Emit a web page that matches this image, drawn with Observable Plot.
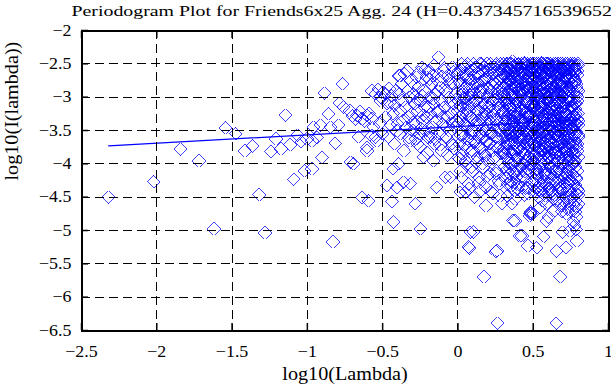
<!DOCTYPE html>
<html><head><meta charset="utf-8">
<script src="https://cdn.jsdelivr.net/npm/d3@7"></script>
<script src="https://cdn.jsdelivr.net/npm/@observablehq/plot@0.6"></script>
<style>html,body{margin:0;padding:0;background:#fff;}</style>
</head><body><div id="chart"></div>
<script>
const title = "Periodogram Plot for Friends6x25 Agg. 24 (H=0.437345716539652)";
const xLabel = "log10(Lambda)";
const yLabel = "log10(I(lambda))";
const xTicks = [-2.5, -2, -1.5, -1, -0.5, 0, 0.5, 1];
const yTicks = [-6.5, -6, -5.5, -5, -4.5, -4, -3.5, -3, -2.5, -2];
const xGrid = [-2, -1.5, -1, -0.5, 0, 0.5];
const yGrid = [-6, -5.5, -5, -4.5, -4, -3.5, -3, -2.5];
const fitX = [-2.32, 0.8];
const fitY = [-3.73, -3.34];

const sparsePoints = [
[-2.32,-4.5],[-2.02,-4.27],[-1.843,-3.78],[-1.718,-3.95],[-1.621,-4.97],[-1.542,-3.46],[-1.475,-3.55],[-1.417,-3.8],[-1.366,-3.73],[-1.32,-4.46],
[-1.279,-5.03],[-1.241,-3.81],[-1.206,-3.62],[-1.174,-3.77],[-1.144,-3.27],[-1.116,-3.71],[-1.09,-4.23],[-1.065,-3.57],[-1.041,-3.67],[-1.019,-4.1],
[-1.0,-3.62],[-0.969,-3.65],[-0.969,-4.07],[-0.958,-3.45],[-0.936,-3.6],[-0.914,-3.42],[-0.903,-3.9],[-0.888,-2.94],[-0.859,-3.25],[-0.848,-3.45],
[-0.83,-5.165],[-0.815,-3.69],[-0.793,-3.42],[-0.786,-3.09],[-0.766,-2.8],[-0.76,-3.15],[-0.715,-3.2],[-0.715,-3.975],[-0.693,-4.0],[-0.67,-3.27],
[-0.66,-3.59],[-0.637,-3.32],[-0.637,-4.5],[-0.604,-3.27],[-0.604,-3.8],[-0.604,-3.75],[-0.594,-4.55],[-0.571,-3.32],[-0.571,-3.575],[-0.549,-2.95],
[-0.549,-3.6],[-0.538,-3.65],[-0.516,-3.0],[-0.483,-2.95],[-0.471,-4.33],[-0.45,-3.08],[-0.45,-3.42],[-0.438,-4.57],[-0.428,-4.07],[-0.428,-4.875],
[-0.405,-3.5],[-0.405,-4.35],[-0.394,-2.675],[-0.394,-4.0],[-0.361,-4.275],[-0.361,-3.8],
[-0.70,-3.28],[-0.68,-3.33],[-0.65,-3.22],[-0.62,-3.36],[-0.59,-3.25],
[-0.57,-2.9],[-0.53,-2.88],[-0.51,-3.05],[-0.5,-2.93],[-0.47,-3.1],[-0.46,-2.87],[-0.44,-2.98],[-0.42,-3.12],[-0.41,-2.9],
[-0.56,-3.45],[-0.52,-3.38],[-0.5,-3.55],[-0.48,-3.3],[-0.46,-3.6],[-0.43,-3.25],[-0.42,-3.7],[-0.4,-3.4]
];

const midPoints = [
[-0.39,-2.95],[-0.385,-3.2],[-0.383,-2.675],[-0.38,-3.55],[-0.375,-2.8],[-0.37,-3.05],[-0.365,-3.35],[-0.355,-2.65],[-0.35,-3.15],[-0.345,-3.45],
[-0.339,-2.6],[-0.335,-2.9],[-0.33,-3.3],[-0.325,-3.6],[-0.32,-3.0],[-0.317,-4.3],[-0.317,-3.65],[-0.31,-2.75],[-0.305,-3.25],[-0.3,-3.5],
[-0.295,-2.95],[-0.29,-3.1],[-0.284,-4.6],[-0.28,-3.4],[-0.275,-2.7],[-0.27,-3.7],[-0.265,-3.2],[-0.26,-2.85],[-0.255,-3.55],[-0.25,-3.75],
[-0.25,-4.975],[-0.245,-3.05],[-0.24,-2.55],[-0.235,-3.35],[-0.228,-3.9],[-0.225,-2.9],[-0.22,-3.15],[-0.215,-3.5],[-0.21,-2.7],[-0.205,-3.3],
[-0.2,-3.6],[-0.195,-2.6],[-0.19,-3.0],[-0.184,-3.6],[-0.18,-3.25],[-0.175,-2.8],[-0.17,-3.45],[-0.162,-2.675],[-0.162,-3.95],[-0.16,-3.1],
[-0.155,-3.7],[-0.15,-2.95],[-0.145,-3.35],[-0.14,-4.35],[-0.135,-2.75],[-0.129,-2.4],[-0.125,-3.2],[-0.12,-3.55],[-0.115,-2.85],[-0.11,-3.05],
[-0.107,-3.8],[-0.1,-3.4],[-0.095,-2.6],[-0.09,-3.15],[-0.085,-4.2],[-0.08,-2.9],[-0.075,-3.6],[-0.07,-3.3],[-0.063,-2.675],[-0.06,-3.0],
[-0.055,-3.5],[-0.052,-4.2],[-0.05,-2.8],[-0.045,-3.25],[-0.04,-3.7],[-0.035,-2.55],[-0.03,-2.8],[-0.03,-3.725],[-0.025,-3.1],[-0.02,-3.45],
[-0.015,-2.95],[-0.01,-3.35],[-0.005,-2.65],[0.0,-3.2],[0.0,-3.9],
[-0.298,-3.38],[-0.287,-2.82],[-0.278,-3.62],[-0.268,-3.04],[-0.258,-2.63],[-0.248,-3.47],[-0.238,-2.98],[-0.229,-3.27],[-0.218,-2.58],[-0.208,-3.83],
[-0.198,-3.14],[-0.188,-2.73],[-0.178,-3.53],[-0.168,-3.02],[-0.158,-2.52],[-0.148,-3.63],[-0.138,-3.22],[-0.128,-2.91],[-0.118,-3.71],[-0.108,-2.69],
[-0.098,-3.29],[-0.088,-2.56],[-0.078,-3.45],[-0.068,-3.87],[-0.058,-2.73],[-0.048,-3.07],[-0.038,-3.39],[-0.028,-2.62],[-0.018,-3.77],[-0.008,-3.02]
];

const denseA = [
[0.005,-2.6],[0.01,-3.05],[0.012,-3.7],[0.015,-2.8],[0.018,-3.3],[0.02,-4.1],[0.023,-2.5],[0.026,-3.5],[0.028,-2.95],[0.03,-3.85],
[0.033,-3.15],[0.036,-2.7],[0.038,-3.6],[0.04,-3.0],[0.043,-2.55],[0.046,-3.4],[0.05,-3.95],[0.052,-2.85],[0.055,-3.25],[0.058,-2.65],
[0.06,-3.75],[0.063,-3.1],[0.066,-2.5],[0.068,-3.45],[0.07,-4.3],[0.073,-2.9],[0.076,-3.2],[0.078,-3.65],[0.08,-2.75],[0.083,-3.0],
[0.086,-3.55],[0.088,-2.6],[0.09,-4.05],[0.093,-3.3],[0.096,-2.8],[0.098,-3.8],[0.1,-3.1],[0.103,-2.5],[0.106,-3.5],[0.108,-2.95],
[0.11,-4.5],[0.113,-3.35],[0.116,-2.7],[0.118,-3.7],[0.12,-3.05],[0.123,-2.55],[0.126,-3.45],[0.128,-3.9],[0.13,-2.85],[0.133,-3.2],
[0.136,-2.65],[0.138,-3.6],[0.14,-4.2],[0.143,-3.0],[0.146,-2.5],[0.148,-3.4],[0.15,-3.75],[0.153,-2.9],[0.156,-3.15],[0.158,-2.6],
[0.16,-3.55],[0.163,-4.0],[0.166,-2.75],[0.168,-3.3],[0.17,-2.95],[0.173,-3.85],[0.176,-2.55],[0.178,-3.5],[0.18,-3.1],[0.183,-4.35],
[0.186,-2.7],[0.188,-3.65],[0.19,-3.25],[0.193,-2.5],[0.196,-3.0],[0.198,-3.95],[0.2,-2.85],[0.203,-3.4],[0.206,-2.6],[0.208,-3.7],
[0.21,-3.15],[0.213,-4.15],[0.216,-2.5],[0.218,-3.55],[0.22,-2.9],[0.223,-3.3],[0.226,-3.8],[0.228,-2.65],[0.23,-3.05],[0.233,-4.45],
[0.236,-2.75],[0.238,-3.45],[0.24,-3.2],[0.243,-2.55],[0.246,-3.9],[0.248,-3.0],[0.25,-2.8],[0.253,-3.6],[0.256,-4.1],[0.258,-2.5],
[0.26,-3.35],[0.263,-2.95],[0.266,-3.75],[0.268,-2.6],[0.27,-3.15],[0.273,-4.25],[0.276,-2.85],[0.278,-3.5],[0.28,-3.05],[0.283,-2.5],
[0.286,-3.85],[0.288,-2.7],[0.29,-3.3],[0.293,-4.6],[0.296,-2.95],[0.298,-3.6]
];

const denseF = [
[0.004,-3.38],[0.008,-2.77],[0.011,-3.92],[0.015,-3.13],[0.019,-2.58],[0.022,-3.56],[0.026,-4.21],[0.03,-2.91],[0.033,-3.24],[0.037,-2.66],
[0.041,-3.71],[0.044,-3.02],[0.048,-2.53],[0.052,-3.44],[0.055,-4.02],[0.059,-2.83],[0.063,-3.17],[0.066,-3.63],[0.07,-2.71],[0.074,-4.37],
[0.077,-2.96],[0.081,-3.29],[0.085,-3.82],[0.088,-2.6],[0.092,-3.5],[0.096,-2.88],[0.099,-4.12],[0.103,-3.07],[0.107,-2.68],[0.11,-3.41],
[0.114,-3.66],[0.118,-2.55],[0.121,-3.19],[0.125,-3.97],[0.129,-2.79],[0.132,-3.35],[0.136,-2.63],[0.14,-4.28],[0.143,-3.53],[0.147,-2.93],
[0.151,-3.09],[0.154,-3.77],[0.158,-2.5],[0.162,-3.31],[0.165,-2.86],[0.169,-4.06],[0.173,-3.6],[0.176,-2.73],[0.18,-3.22],[0.184,-3.88],
[0.187,-2.62],[0.191,-3.47],[0.195,-4.18],[0.198,-2.97],[0.202,-3.14],[0.206,-2.7],[0.209,-3.69],[0.213,-3.36],[0.217,-2.56],[0.22,-4.41],
[0.224,-3.55],[0.228,-2.82],[0.231,-3.26],[0.235,-3.93],[0.239,-2.65],[0.242,-3.04],[0.246,-3.74],[0.25,-2.52],[0.253,-4.15],[0.257,-3.33],
[0.261,-2.89],[0.264,-3.61],[0.268,-3.11],[0.272,-2.74],[0.275,-4.3],[0.279,-3.45],[0.283,-2.59],[0.286,-3.8],[0.29,-3.0],[0.294,-2.69]
];

const denseB = [
[0.301,-2.5],[0.303,-3.2],[0.305,-3.75],[0.306,-2.85],[0.308,-3.45],[0.31,-2.6],[0.311,-4.05],[0.313,-3.0],[0.315,-3.6],[0.316,-2.7],
[0.318,-3.3],[0.32,-2.5],[0.321,-3.9],[0.323,-3.1],[0.325,-2.8],[0.326,-3.5],[0.328,-4.3],[0.33,-2.95],[0.331,-3.65],[0.333,-2.55],
[0.335,-3.25],[0.336,-3.8],[0.338,-2.75],[0.34,-3.4],[0.341,-3.05],[0.343,-4.15],[0.345,-2.6],[0.346,-3.55],[0.348,-2.9],[0.35,-3.7],
[0.351,-3.15],[0.353,-2.5],[0.355,-3.35],[0.356,-4.0],[0.358,-2.8],[0.36,-3.6],[0.361,-3.0],[0.363,-2.65],[0.365,-3.85],[0.366,-3.2],
[0.368,-2.55],[0.37,-3.45],[0.371,-4.4],[0.373,-2.95],[0.375,-3.7],[0.376,-2.7],[0.378,-3.3],[0.38,-3.95],[0.381,-2.5],[0.383,-3.1],
[0.385,-3.55],[0.386,-2.85],[0.388,-4.2],[0.39,-3.4],[0.391,-2.6],[0.393,-3.75],[0.395,-3.05],[0.396,-2.75],[0.398,-3.6],[0.4,-2.5],
[0.401,-3.25],[0.403,-3.9],[0.405,-2.9],[0.406,-3.5],[0.408,-2.65],[0.41,-4.1],[0.411,-3.15],[0.413,-2.55],[0.415,-3.65],[0.416,-3.0],
[0.418,-2.8],[0.42,-3.35],[0.421,-3.8],[0.423,-2.5],[0.425,-4.35],[0.426,-3.2],[0.428,-2.7],[0.43,-3.55],[0.431,-2.95],[0.433,-3.7],
[0.435,-2.6],[0.436,-3.1],[0.438,-4.0],[0.44,-3.4],[0.441,-2.5],[0.443,-3.85],[0.445,-2.85],[0.446,-3.3],[0.448,-2.65],[0.45,-3.6],
[0.451,-4.25],[0.453,-3.05],[0.455,-2.55],[0.456,-3.5],[0.458,-2.75],[0.46,-3.95],[0.461,-3.2],[0.463,-2.5],[0.465,-3.65],[0.466,-2.9],
[0.468,-3.4],[0.47,-4.45],[0.471,-2.6],[0.473,-3.75],[0.475,-3.0],[0.476,-2.7],[0.478,-3.55],[0.48,-4.1],[0.481,-2.5],[0.483,-3.25],
[0.485,-2.85],[0.486,-3.85],[0.488,-3.1],[0.49,-2.55],[0.491,-3.6],[0.493,-4.3],[0.495,-2.95],[0.496,-3.45],[0.498,-2.65],[0.5,-3.8]
];

const denseD = [
[0.302,-2.93],[0.304,-3.41],[0.307,-2.57],[0.309,-3.83],[0.312,-3.12],[0.314,-2.68],[0.317,-3.57],[0.319,-4.22],[0.322,-2.81],[0.324,-3.36],
[0.327,-2.62],[0.329,-3.71],[0.332,-3.04],[0.334,-2.49],[0.337,-3.93],[0.339,-3.19],[0.342,-2.72],[0.344,-3.48],[0.347,-4.07],[0.349,-2.58],
[0.352,-3.27],[0.354,-2.87],[0.357,-3.62],[0.359,-3.01],[0.362,-2.46],[0.364,-3.39],[0.367,-4.28],[0.369,-2.77],[0.372,-3.14],[0.374,-3.86],
[0.377,-2.53],[0.379,-3.52],[0.382,-2.98],[0.384,-3.68],[0.387,-2.66],[0.389,-3.21],[0.392,-4.12],[0.394,-2.84],[0.397,-3.43],[0.399,-2.51],
[0.402,-3.07],[0.404,-3.78],[0.407,-2.7],[0.409,-3.31],[0.412,-2.89],[0.414,-4.02],[0.417,-3.58],[0.419,-2.56],[0.422,-3.16],[0.424,-2.79],
[0.427,-3.66],[0.429,-4.18],[0.432,-2.63],[0.434,-3.37],[0.437,-2.92],[0.439,-3.74],[0.442,-2.48],[0.444,-3.23],[0.447,-3.96],[0.449,-2.74],
[0.452,-3.46],[0.454,-2.6],[0.457,-3.09],[0.459,-4.37],[0.462,-2.83],[0.464,-3.55],[0.467,-2.52],[0.469,-3.28],[0.472,-3.89],[0.474,-2.69],
[0.477,-3.13],[0.479,-2.97],[0.482,-3.63],[0.484,-2.58],[0.487,-4.05],[0.489,-3.38],[0.492,-2.76],[0.494,-3.18],[0.497,-2.5],[0.499,-3.69],
[0.31,-3.34],[0.335,-3.97],[0.36,-2.71],[0.385,-3.29],[0.41,-2.6],[0.435,-3.51],[0.46,-3.27],[0.485,-3.99],[0.32,-2.69],[0.345,-3.12],
[0.37,-3.81],[0.395,-4.38],[0.42,-3.47],[0.445,-4.12],[0.47,-2.86],[0.495,-3.3],[0.33,-4.48],[0.355,-4.33],[0.38,-4.52],[0.44,-4.47]
];

const denseC = [
[0.501,-3.15],[0.502,-2.5],[0.504,-3.55],[0.505,-4.0],[0.506,-2.75],[0.508,-3.3],[0.509,-2.6],[0.51,-3.85],[0.512,-3.0],[0.513,-4.4],
[0.514,-2.55],[0.516,-3.45],[0.517,-2.85],[0.518,-3.7],[0.52,-3.2],[0.521,-2.5],[0.522,-4.15],[0.524,-3.6],[0.525,-2.7],[0.526,-3.35],
[0.528,-2.95],[0.529,-3.9],[0.53,-2.6],[0.532,-3.1],[0.533,-4.5],[0.534,-3.5],[0.536,-2.5],[0.537,-3.75],[0.538,-2.8],[0.54,-3.25],
[0.541,-4.05],[0.542,-2.65],[0.544,-3.55],[0.545,-3.0],[0.546,-2.55],[0.548,-3.8],[0.549,-3.35],[0.55,-4.3],[0.552,-2.75],[0.553,-3.15],
[0.554,-2.5],[0.556,-3.65],[0.557,-2.9],[0.558,-4.2],[0.56,-3.45],[0.561,-2.6],[0.562,-3.05],[0.564,-3.95],[0.565,-2.7],[0.566,-3.3],
[0.568,-2.5],[0.569,-3.7],[0.57,-4.45],[0.572,-2.85],[0.573,-3.5],[0.574,-3.1],[0.576,-2.55],[0.577,-3.85],[0.578,-3.25],[0.58,-2.65],
[0.581,-4.1],[0.582,-3.6],[0.584,-2.95],[0.585,-2.5],[0.586,-3.4],[0.588,-3.75],[0.589,-2.8],[0.59,-4.6],[0.592,-3.2],[0.593,-2.6],
[0.594,-3.55],[0.596,-3.0],[0.597,-4.0],[0.598,-2.5],[0.6,-3.35],[0.601,-2.75],[0.602,-3.9],[0.604,-3.1],[0.605,-2.55],[0.606,-4.3],
[0.608,-3.65],[0.609,-2.9],[0.61,-3.45],[0.612,-2.6],[0.613,-3.8],[0.614,-3.05],[0.616,-2.5],[0.617,-4.15],[0.618,-3.5],[0.62,-2.7],
[0.621,-3.25],[0.622,-3.95],[0.624,-2.85],[0.625,-3.6],[0.626,-2.55],[0.628,-4.45],[0.629,-3.15],[0.63,-2.65],[0.632,-3.7],[0.633,-3.35],
[0.634,-2.5],[0.636,-4.05],[0.637,-2.95],[0.638,-3.55],[0.64,-2.75],[0.641,-3.85],[0.642,-3.2],[0.644,-2.6],[0.645,-4.25],[0.646,-3.45],
[0.648,-2.5],[0.649,-3.0],[0.65,-3.75],[0.652,-2.8],[0.653,-4.55],[0.654,-3.3],[0.656,-2.55],[0.657,-3.65],[0.658,-3.1],[0.66,-3.95],
[0.661,-2.7],[0.662,-3.5],[0.664,-2.5],[0.665,-4.2],[0.666,-3.25],[0.668,-2.9],[0.669,-3.8],[0.67,-2.6],[0.672,-3.4],[0.673,-4.4],
[0.674,-3.05],[0.676,-2.55],[0.677,-3.6],[0.678,-2.75],[0.68,-3.9],[0.681,-3.2],[0.682,-2.5],[0.684,-4.1],[0.685,-3.55],[0.686,-2.85],
[0.688,-3.35],[0.689,-2.65],[0.69,-4.6],[0.692,-3.7],[0.693,-3.0],[0.694,-2.5],[0.696,-3.45],[0.697,-4.0],[0.698,-2.8],[0.7,-3.15],
[0.701,-2.6],[0.702,-3.85],[0.704,-4.3],[0.705,-3.3],[0.706,-2.55],[0.708,-3.6],[0.709,-2.95],[0.71,-3.75],[0.712,-2.7],[0.713,-4.5],
[0.714,-3.1],[0.716,-2.5],[0.717,-3.5],[0.718,-3.95],[0.72,-2.85],[0.721,-3.25],[0.722,-4.15],[0.724,-2.6],[0.725,-3.65],[0.726,-3.0],
[0.728,-2.5],[0.729,-3.8],[0.73,-4.4],[0.732,-3.4],[0.733,-2.75],[0.734,-3.55],[0.736,-2.55],[0.737,-4.05],[0.738,-3.2],[0.74,-2.9],
[0.741,-3.7],[0.742,-4.6],[0.744,-2.65],[0.745,-3.35],[0.746,-2.5],[0.748,-3.9],[0.749,-3.05],[0.75,-4.25],[0.752,-2.8],[0.753,-3.6],
[0.754,-2.55],[0.756,-3.45],[0.757,-4.45],[0.758,-3.15],[0.76,-2.7],[0.761,-3.75],[0.762,-2.5],[0.764,-4.0],[0.765,-3.3],[0.766,-2.95],
[0.768,-3.85],[0.769,-2.6],[0.77,-4.3],[0.772,-3.5],[0.773,-2.5],[0.774,-3.1],[0.776,-4.55],[0.777,-3.65],[0.778,-2.75],[0.78,-3.95],
[0.781,-3.25],[0.782,-2.55],[0.784,-4.2],[0.785,-3.55],[0.786,-2.85],[0.788,-3.8],[0.789,-4.65],[0.79,-3.4],[0.792,-2.6],[0.793,-3.0],
[0.794,-4.1],[0.796,-3.7],[0.797,-2.5],[0.798,-3.35],[0.8,-4.4],[0.8,-2.9],[0.8,-3.6]
];

const denseE = [
[0.501,-2.88],[0.503,-3.42],[0.504,-2.57],[0.506,-3.96],[0.507,-3.13],[0.509,-2.69],[0.51,-3.71],[0.512,-4.24],[0.513,-2.94],[0.515,-3.28],
[0.516,-2.52],[0.518,-3.61],[0.519,-3.07],[0.521,-4.08],[0.522,-2.77],[0.524,-3.37],[0.525,-2.61],[0.527,-3.84],[0.528,-3.19],[0.53,-4.35],
[0.531,-2.74],[0.533,-3.49],[0.534,-2.99],[0.536,-3.67],[0.537,-2.55],[0.539,-4.16],[0.54,-3.31],[0.542,-2.83],[0.543,-3.58],[0.545,-3.03],
[0.546,-4.42],[0.548,-2.63],[0.549,-3.22],[0.551,-3.79],[0.552,-2.92],[0.554,-3.46],[0.555,-2.48],[0.557,-4.01],[0.558,-3.11],[0.56,-2.71],
[0.561,-3.64],[0.563,-3.26],[0.564,-2.86],[0.566,-4.27],[0.567,-2.59],[0.569,-3.53],[0.57,-3.09],[0.572,-3.88],[0.573,-2.67],[0.575,-3.39],
[0.576,-2.97],[0.578,-4.13],[0.579,-3.74],[0.581,-2.54],[0.582,-3.17],[0.584,-3.59],[0.585,-2.81],[0.587,-4.31],[0.588,-3.44],[0.59,-2.64],
[0.591,-3.33],[0.593,-2.91],[0.594,-3.81],[0.596,-2.5],[0.597,-3.06],[0.599,-4.19],[0.6,-3.63],[0.602,-2.73],[0.603,-3.24],[0.605,-3.98],
[0.606,-2.58],[0.608,-3.52],[0.609,-4.38],[0.611,-2.89],[0.612,-3.15],[0.614,-3.69],[0.615,-2.62],[0.617,-3.35],[0.618,-4.06],[0.62,-2.78],
[0.621,-3.47],[0.623,-2.96],[0.624,-3.77],[0.626,-2.53],[0.627,-4.22],[0.629,-3.21],[0.63,-2.85],[0.632,-3.61],[0.633,-3.01],[0.635,-2.66],
[0.636,-3.91],[0.638,-3.29],[0.639,-2.75],[0.641,-4.47],[0.642,-3.56],[0.644,-2.6],[0.645,-3.12],[0.647,-3.83],[0.648,-2.93],[0.65,-3.4],
[0.651,-2.68],[0.653,-3.18],[0.654,-4.11],[0.656,-3.54],[0.657,-2.84],[0.659,-3.36],[0.66,-2.51],[0.662,-3.73],[0.663,-4.29],[0.665,-3.02],
[0.666,-3.57],[0.668,-2.79],[0.669,-3.08],[0.671,-3.92],[0.672,-2.65],[0.674,-3.44],[0.675,-4.36],[0.677,-2.95],[0.678,-3.25],[0.68,-2.56],
[0.681,-3.14],[0.683,-4.03],[0.684,-2.7],[0.686,-3.48],[0.687,-3.86],[0.689,-2.59],[0.69,-3.3],[0.692,-2.98],[0.693,-4.21],[0.695,-3.66],
[0.696,-2.83],[0.698,-3.38],[0.699,-3.97],[0.701,-2.62],[0.702,-3.1],[0.704,-4.44],[0.705,-3.55],[0.707,-2.76],[0.708,-3.2],[0.71,-3.78],
[0.711,-4.15],[0.713,-2.55],[0.714,-3.27],[0.716,-3.62],[0.717,-2.9],[0.719,-3.04],[0.72,-3.82],[0.722,-2.67],[0.723,-4.33],[0.725,-3.43],
[0.726,-2.73],[0.728,-3.5],[0.729,-2.99],[0.731,-4.09],[0.732,-3.34],[0.734,-2.58],[0.735,-3.7],[0.737,-3.16],[0.738,-2.87],[0.74,-4.25],
[0.741,-3.6],[0.743,-2.64],[0.744,-4.4],[0.746,-3.05],[0.747,-3.89],[0.749,-2.78],[0.75,-3.39],[0.752,-2.53],[0.753,-3.23],[0.755,-3.72],
[0.756,-2.92],[0.758,-3.81],[0.759,-3.13],[0.761,-2.57],[0.762,-4.17],[0.764,-3.45],[0.765,-2.69],[0.767,-3.94],[0.768,-3.29],[0.77,-4.5],
[0.771,-3.37],[0.773,-2.74],[0.774,-3.58],[0.776,-4.04],[0.777,-2.61],[0.779,-3.17],[0.78,-3.85],[0.782,-2.96],[0.783,-4.32],[0.785,-3.51],
[0.786,-2.8],[0.788,-4.23],[0.789,-3.32],[0.791,-2.66],[0.792,-3.75],[0.794,-3.06],[0.795,-4.46],[0.797,-2.52],[0.798,-3.41],[0.8,-3.9]
];

const denseG = [
[0.302,-3.23],[0.305,-2.66],[0.309,-3.87],[0.312,-3.05],[0.315,-2.54],[0.319,-3.49],[0.322,-4.09],[0.325,-2.79],[0.329,-3.32],[0.332,-3.68],
[0.335,-2.59],[0.339,-3.99],[0.342,-3.16],[0.345,-2.73],[0.349,-3.58],[0.352,-4.26],[0.355,-2.97],[0.359,-3.41],[0.362,-2.51],[0.365,-3.79],
[0.369,-3.36],[0.372,-2.84],[0.375,-4.14],[0.379,-3.63],[0.382,-2.62],[0.385,-3.09],[0.389,-3.91],[0.392,-2.76],[0.395,-3.27],[0.399,-4.31],
[0.402,-2.7],[0.405,-3.52],[0.409,-2.93],[0.412,-3.76],[0.415,-4.05],[0.419,-2.57],[0.422,-3.2],[0.425,-3.6],[0.429,-2.88],[0.432,-3.43],
[0.435,-4.19],[0.439,-3.11],[0.442,-2.64],[0.445,-3.84],[0.449,-3.31],[0.452,-2.81],[0.455,-3.55],[0.459,-4.36],[0.462,-2.53],[0.465,-3.02],
[0.469,-3.67],[0.472,-2.9],[0.475,-3.28],[0.479,-2.6],[0.482,-4.01],[0.485,-3.47],[0.489,-2.77],[0.492,-3.12],[0.495,-3.93],[0.499,-2.68],
[0.502,-3.08],[0.505,-3.72],[0.509,-2.55],[0.512,-4.23],[0.515,-3.37],[0.519,-2.86],[0.522,-3.64],[0.525,-2.98],[0.529,-4.11],[0.532,-3.19],
[0.535,-2.63],[0.539,-3.44],[0.542,-3.86],[0.545,-2.74],[0.549,-3.15],[0.552,-4.34],[0.555,-3.53],[0.559,-2.58],[0.562,-3.26],[0.565,-3.95],
[0.569,-3.81],[0.572,-2.95],[0.575,-3.34],[0.579,-4.17],[0.582,-2.67],[0.585,-3.59],[0.589,-3.03],[0.592,-2.82],[0.595,-3.71],[0.599,-4.42],
[0.602,-2.56],[0.605,-3.24],[0.609,-3.9],[0.612,-3.07],[0.615,-2.72],[0.619,-4.04],[0.622,-3.46],[0.625,-2.61],[0.629,-3.35],[0.632,-3.77],
[0.635,-4.27],[0.639,-2.87],[0.642,-3.57],[0.645,-3.14],[0.649,-2.5],[0.652,-3.83],[0.655,-4.12],[0.659,-2.94],[0.662,-3.4],[0.665,-2.69],
[0.669,-3.5],[0.672,-2.6],[0.675,-4.07],[0.679,-3.3],[0.682,-2.83],[0.685,-3.66],[0.689,-2.99],[0.692,-4.39],[0.695,-3.18],[0.699,-2.75],
[0.702,-2.91],[0.705,-3.74],[0.709,-3.22],[0.712,-2.57],[0.715,-4.2],[0.719,-3.38],[0.722,-2.7],[0.725,-3.89],[0.729,-3.06],[0.732,-4.28],
[0.735,-3.61],[0.739,-3.0],[0.742,-2.65],[0.745,-3.94],[0.749,-3.33],[0.752,-2.85],[0.755,-4.14],[0.759,-3.48],[0.762,-2.54],[0.765,-3.17],
[0.769,-2.78],[0.772,-4.0],[0.775,-3.42],[0.779,-2.62],[0.782,-3.7],[0.785,-3.1],[0.789,-4.37],[0.792,-2.89],[0.795,-3.56],[0.798,-3.25]
];

const lowPoints = [
[0.015,-4.425],[0.048,-4.425],[0.07,-5.25],[0.077,-5.265],[0.081,-5.025],[0.103,-5.025],[0.148,-4.4],[0.176,-5.69],[0.187,-4.625],[0.254,-5.315],
[0.26,-5.3],[0.263,-6.39],[0.28,-4.475],[0.358,-4.6],[0.367,-4.85],[0.38,-4.85],[0.41,-5.075],[0.424,-5.075],[0.468,-5.225],[0.479,-4.75],
[0.482,-4.72],[0.476,-4.78],[0.485,-4.74],[0.5,-4.75],[0.524,-5.26],[0.557,-4.55],[0.568,-5.09],[0.59,-4.86],[0.652,-6.39],[0.656,-5.31],
[0.678,-5.69],[0.678,-4.625],[0.696,-5.025],[0.718,-5.26],[0.745,-5.0],[0.767,-4.875],[0.775,-4.93],[0.785,-4.99],[0.789,-5.15],[0.8,-4.6],
[0.79,-4.8],[0.72,-4.75],[0.76,-4.7],[0.64,-4.7],[0.6,-4.8],[0.545,-4.65],[0.7,-4.55],[0.78,-4.72],
[0.62,-4.4],[0.66,-4.52],[0.7,-4.38],[0.74,-4.5],[0.77,-4.62],[0.79,-4.45],[0.58,-4.48],[0.55,-4.4],[0.73,-4.68],[0.69,-4.72]
];

const points = [...sparsePoints, ...midPoints, ...denseA, ...denseF, ...denseB, ...denseD, ...denseG, ...denseC, ...denseE, ...lowPoints];
const fitLine = fitX.map((x, i) => ({x, y: fitY[i]}));
const fmt = d => (d < 0 ? "\u2212" + String(-d) : String(d));
const blank = () => "";

const chart = Plot.plot({
  width: 611,
  height: 385,
  marginTop: 30,
  marginLeft: 81,
  marginRight: 3,
  marginBottom: 55,
  style: {fontFamily: "'Liberation Serif', 'Times New Roman', serif", fontSize: "16px", background: "#fff", color: "#000"},
  x: {domain: [-2.5, 1], label: null},
  y: {domain: [-6.5, -2], label: null},
  marks: [
    Plot.dot(points, {x: d => d[0], y: d => d[1], symbol: "diamond2", r: 5.8, stroke: "#0000ff", fill: "none", strokeWidth: 0.75, shapeRendering: "crispEdges"}),
    Plot.line(fitLine, {x: "x", y: "y", stroke: "#0000ff", strokeWidth: 1.2}),
    Plot.gridX(xGrid, {stroke: "#000", strokeOpacity: 1, strokeWidth: 1, strokeDasharray: "9,5", shapeRendering: "crispEdges"}),
    Plot.gridY(yGrid, {stroke: "#000", strokeOpacity: 1, strokeWidth: 1, strokeDasharray: "9,5", shapeRendering: "crispEdges"}),
    Plot.frame({stroke: "#000", strokeWidth: 2, shapeRendering: "crispEdges"}),
    Plot.axisX({ticks: xTicks, anchor: "bottom", tickSize: 0, tickPadding: 15, tickFormat: fmt, fontSize: 16, label: null}),
    Plot.axisY({ticks: yTicks, anchor: "left", tickSize: 0, tickPadding: 10, tickFormat: fmt, fontSize: 16, label: null}),
    Plot.axisX({ticks: xTicks, anchor: "bottom", tickSize: -7, tickFormat: blank, label: null, strokeWidth: 1.5}),
    Plot.axisX({ticks: xTicks, anchor: "top", tickSize: -7, tickFormat: blank, label: null, strokeWidth: 1.5}),
    Plot.axisY({ticks: yTicks, anchor: "left", tickSize: -7, tickFormat: blank, label: null, strokeWidth: 1.5}),
    Plot.axisY({ticks: yTicks, anchor: "right", tickSize: -7, tickFormat: blank, label: null, strokeWidth: 1.5}),
    Plot.text([title], {frameAnchor: "top", dy: -15, lineAnchor: "bottom", fontSize: 15.5}),
    Plot.text([xLabel], {frameAnchor: "bottom", dy: 49, lineAnchor: "bottom", fontSize: 18}),
    Plot.text([yLabel], {frameAnchor: "left", dx: -64, rotate: -90, lineAnchor: "bottom", fontSize: 18})
  ]
});
document.getElementById("chart").appendChild(chart);

// widen glyphs horizontally a little, like the reference's wide serif rendering
d3.select(chart).selectAll("text").each(function () {
  const t = this.textContent;
  if (!t) return;
  const len = this.getComputedTextLength();
  const target = t === title ? 547 : len * 1.12;
  this.setAttribute("textLength", target);
  this.setAttribute("lengthAdjust", "spacingAndGlyphs");
});
</script>
</body></html>
